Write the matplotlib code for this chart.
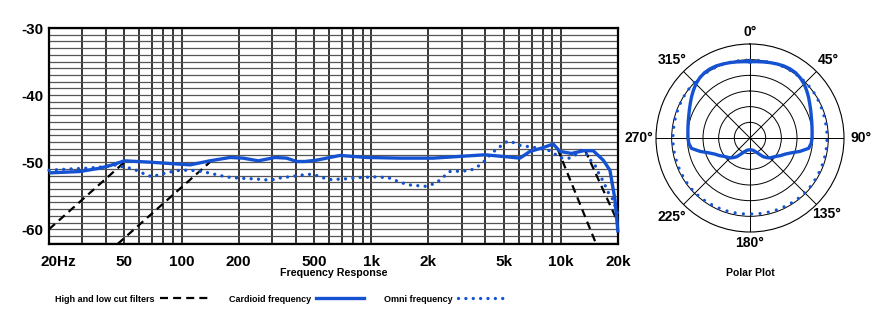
import numpy as np
import matplotlib
matplotlib.use("Agg")
import matplotlib.pyplot as plt
from matplotlib.lines import Line2D
from matplotlib.transforms import ScaledTranslation

plt.rcParams['font.family'] = ['Liberation Sans', 'DejaVu Sans']

BLUE = '#1452d2'

# ---- Frequency response (Hz, dB) ----
cardioid_freq = [20, 29, 37, 42, 50, 68, 98, 111, 141, 180, 211, 254, 311, 358,
                 404, 447, 515, 684, 946, 1416, 2122, 3976, 5175, 6081, 6866,
                 7914, 9108, 9880, 11386, 13108, 14806, 16712, 18130, 19260, 20000]
cardioid_db = [-51.6, -51.4, -50.9, -50.5, -49.8, -50.0, -50.3, -50.4, -49.8, -49.3,
               -49.4, -49.8, -49.3, -49.4, -49.9, -49.9, -49.7, -49.0, -49.3, -49.4,
               -49.4, -48.9, -49.2, -49.4, -48.4, -47.9, -47.3, -48.4, -48.7, -48.3,
               -48.3, -49.7, -51.2, -55.5, -60.5]

omni_freq = [20, 26.5, 32, 38.2, 45.7, 50, 54.1, 58.7, 64.1, 70.1, 76.9, 83.5, 92.3,
             100, 111, 130, 143, 156, 171, 187, 205, 246, 295, 323, 388, 465, 505,
             554, 601, 721, 861, 1034, 1229, 1334, 1457, 1600, 1919, 2097, 2302,
             2468, 2600, 3118, 3406, 3710, 4009, 4260, 4526, 4869, 5212, 5537, 6081,
             7232, 8574, 9301, 10161, 11158, 12104, 12599, 13382, 14220, 15108,
             15726, 16390, 17058, 17755, 18730, 19662, 20000]
omni_db = [-51.2, -51.0, -50.9, -50.7, -50.4, -50.8, -50.9, -51.3, -51.8, -52.2, -51.8,
           -51.6, -51.3, -51.2, -51.2, -51.4, -51.7, -51.9, -52.2, -52.3, -52.4, -52.5,
           -52.7, -52.4, -52.1, -51.8, -51.9, -52.3, -52.6, -52.5, -52.3, -52.2, -52.3,
           -52.7, -53.1, -53.4, -53.6, -53.3, -52.7, -51.9, -51.4, -51.3, -51.1, -50.5,
           -49.7, -48.8, -48.2, -47.5, -46.9, -47.0, -47.5, -47.8, -48.2, -48.8, -49.4,
           -49.4, -48.8, -48.2, -48.5, -49.6, -50.4, -51.5, -52.4, -53.4, -54.5, -55.5,
           -57.2, -57.8]

# High and low cut filter slopes (Hz, dB)
lowcut1_freq, lowcut1_db = [20, 50], [-60.0, -50.0]
lowcut2_freq, lowcut2_db = [46, 141], [-62.2, -50.0]
highcut1_freq, highcut1_db = [9600, 15500], [-48.0, -62.5]
highcut2_freq, highcut2_db = [13400, 20000], [-48.2, -59.0]

freq_ticks = [20, 50, 100, 200, 500, 1000, 2000, 5000, 10000, 20000]
freq_labels = ['20Hz', '50', '100', '200', '500', '1k', '2k', '5k', '10k', '20k']
db_ticks = [-30, -40, -50, -60]
db_labels = ['-30', '-40', '-50', '-60']

# ---- Polar pattern (degrees, radius in ring units; outer ring = 6) ----
polar_deg = list(range(0, 361, 5))
cardioid_r = [4.87, 4.89, 4.93, 4.98, 5.03, 5.08, 5.10, 5.08, 5.00, 4.88,
              4.72, 4.56, 4.40, 4.27, 4.16, 4.08, 4.02, 3.98, 3.96, 3.92,
              3.80, 3.30, 2.78, 2.45, 2.25, 2.04, 1.90, 1.80, 1.63, 1.45,
              1.20, 1.02, 0.90, 0.82, 0.78, 0.76, 0.75,
              0.76, 0.78, 0.82, 0.90, 1.02, 1.20, 1.45, 1.63, 1.80, 1.90,
              2.04, 2.25, 2.45, 2.78, 3.30, 3.80, 3.92, 3.96, 3.98, 4.02,
              4.08, 4.16, 4.27, 4.40, 4.56, 4.72, 4.88, 5.00, 5.08, 5.10,
              5.08, 5.03, 4.98, 4.93, 4.89, 4.87]
omni_r = [4.97, 4.98, 4.99, 5.00, 5.01, 5.02, 5.02, 5.02, 5.02, 5.02,
          5.01, 5.00, 4.98, 4.96, 4.94, 4.93, 4.92, 4.92, 4.92, 4.92,
          4.92, 4.92, 4.92, 4.93, 4.93, 4.94, 4.95, 4.95, 4.94, 4.93,
          4.91, 4.90, 4.89, 4.88, 4.87, 4.86, 4.85,
          4.86, 4.87, 4.88, 4.89, 4.90, 4.91, 4.93, 4.94, 4.95, 4.95,
          4.94, 4.93, 4.93, 4.92, 4.92, 4.92, 4.92, 4.92, 4.92, 4.92,
          4.93, 4.94, 4.96, 4.98, 5.00, 5.01, 5.02, 5.02, 5.02, 5.02,
          5.02, 5.01, 5.00, 4.99, 4.98, 4.97]
angle_ticks = [0, 45, 90, 135, 180, 225, 270, 315]
angle_labels = ['0°', '45°', '90°', '135°', '180°', '225°', '270°', '315°']
# radial placement of each angle label, just outside the outer ring
angle_label_r = [6.78, 7.05, 7.12, 6.9, 6.7, 7.1, 7.12, 7.03]

fig = plt.figure(figsize=(8.89, 3.24), dpi=100)

# ---------------- Frequency response ----------------
ax = fig.add_axes([49 / 889, 80 / 324, 569 / 889, 216 / 324])
ax.set_xscale('log')
ax.set_xlim(20, 20000)
ax.set_ylim(-62.2, -30)

minor_x = [m * d for d in (10, 100, 1000) for m in range(2, 10)]
minor_x = [v for v in minor_x if 20 < v < 20000 and v not in freq_ticks]
ax.set_xticks(freq_ticks)
ax.set_xticklabels(freq_labels)
ax.set_xticks(minor_x, minor=True)
ax.set_yticks(db_ticks)
ax.set_yticklabels(db_labels)
ax.set_yticks(np.arange(-62, -29, 1), minor=True)

ax.tick_params(axis='both', which='both', length=0)
ax.tick_params(axis='x', which='major', pad=8, labelsize=11)
ax.tick_params(axis='y', which='major', pad=4, labelsize=11)
for lbl in ax.get_xticklabels() + ax.get_yticklabels():
    lbl.set_fontweight('bold')
first = ax.get_xticklabels()[0]
first.set_transform(first.get_transform() + ScaledTranslation(9.5 / 100, 0, fig.dpi_scale_trans))

ax.grid(True, axis='y', which='both', color='#555555', lw=0.9)
ax.grid(True, axis='x', which='both', color='black', lw=1.1)
ax.set_axisbelow(True)
for s in ax.spines.values():
    s.set_linewidth(1.6)
    s.set_color('black')

ax.set_xlabel('Frequency Response', fontsize=7.7, fontweight='bold', labelpad=-1)

dash_kw = dict(color='black', lw=1.6, linestyle=(0, (3.6, 2.3)), zorder=3)
ax.plot(lowcut1_freq, lowcut1_db, **dash_kw)
ax.plot(lowcut2_freq, lowcut2_db, **dash_kw)
ax.plot(highcut1_freq, highcut1_db, **dash_kw)
ax.plot(highcut2_freq, highcut2_db, **dash_kw)

ax.plot(omni_freq, omni_db, color=BLUE, lw=2.4, linestyle=(0, (0.01, 2.2)),
        dash_capstyle='round', zorder=4, clip_on=False)
ax.plot(cardioid_freq, cardioid_db, color=BLUE, lw=2.4, solid_capstyle='butt',
        zorder=5, clip_on=False)

# ---------------- Polar plot ----------------
pax = fig.add_axes([656 / 889, 92 / 324, 188 / 889, 188 / 324], projection='polar')
pax.set_theta_zero_location('N')
pax.set_theta_direction(-1)
pax.set_ylim(0, 6)
pax.set_yticks([1, 2, 3, 4, 5])
pax.set_yticklabels([])
pax.set_thetagrids(angle_ticks, labels=[''] * len(angle_ticks))
pax.grid(True, color='black', lw=0.7)
pax.spines['polar'].set_linewidth(0.8)

for deg, text, rad in zip(angle_ticks, angle_labels, angle_label_r):
    pax.text(np.deg2rad(deg), rad, text, ha='center', va='center',
             fontsize=10, fontweight='bold', clip_on=False)

theta = np.deg2rad(polar_deg)
pax.plot(theta, omni_r, color=BLUE, lw=2.3, linestyle=(0, (0.01, 2.6)),
         dash_capstyle='round', zorder=4)
pax.plot(theta, cardioid_r, color=BLUE, lw=2.4, zorder=5)

fig.text(750 / 889, (324 - 273) / 324, 'Polar Plot', ha='center', va='center',
         fontsize=7.5, fontweight='bold')

# ---------------- Legend ----------------
handles = [
    Line2D([], [], color='black', lw=1.6, linestyle=(0, (3.6, 2.3))),
    Line2D([], [], color=BLUE, lw=2.4),
    Line2D([], [], color=BLUE, lw=2.4, linestyle=(0, (0.01, 2.2)), dash_capstyle='round'),
]
labels = ['High and low cut filters', 'Cardioid frequency', 'Omni frequency']
fig.legend(handles, labels, loc='center', bbox_to_anchor=(281 / 889, 25 / 324),
           ncol=3, markerfirst=False, frameon=False, handlelength=5.4,
           handletextpad=0.55, columnspacing=2.2,
           prop=dict(size=6.5, weight='bold'))

fig.savefig('out.png', dpi=100)
